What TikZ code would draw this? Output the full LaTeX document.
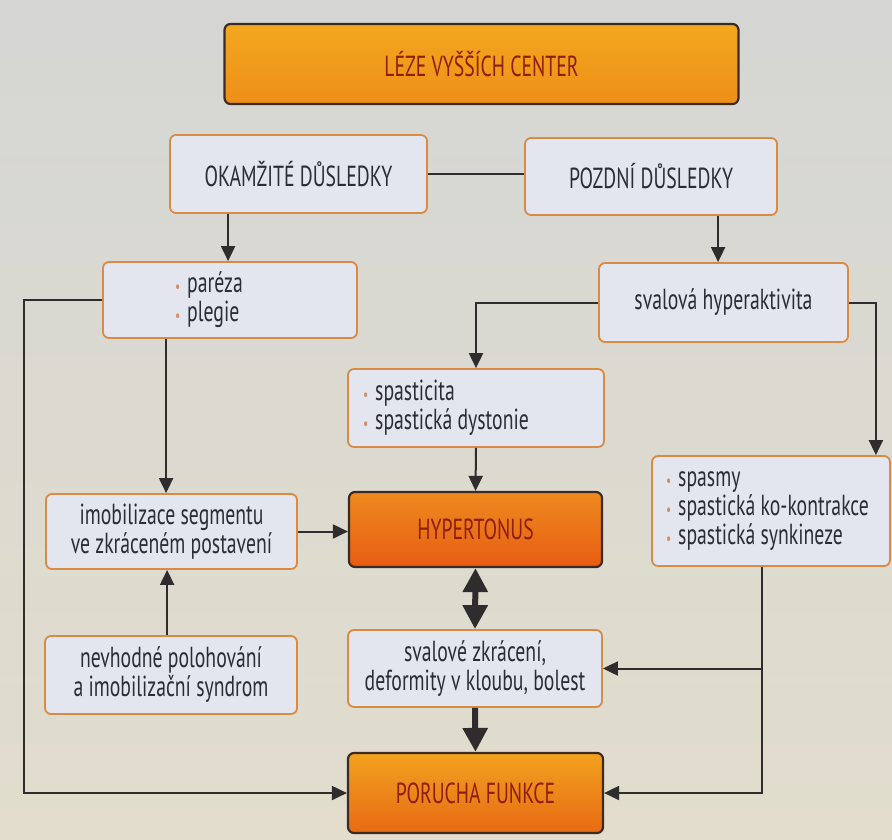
\documentclass[tikz,border=0pt]{standalone}
\usepackage{fontspec}
\setmainfont{PT Sans}[FakeStretch=0.68]
\usetikzlibrary{arrows.meta,calc}
\definecolor{bgtop}{HTML}{D5D6D4}
\definecolor{bgbot}{HTML}{E2DDCC}
\definecolor{boxline}{HTML}{D98A45}
\definecolor{boxfill}{HTML}{E3E6EE}
\definecolor{txt}{HTML}{2B2C36}
\definecolor{obline}{HTML}{3A2C24}
\definecolor{ltop}{HTML}{F3A81F}
\definecolor{lbot}{HTML}{EE8E18}
\definecolor{otop}{HTML}{F2A21F}
\definecolor{obot}{HTML}{E86A14}
\definecolor{htop}{HTML}{EF8A1F}
\definecolor{hbot}{HTML}{E75C12}
\definecolor{otxt}{HTML}{8E1E10}
\definecolor{ln}{HTML}{2E2C2C}
\definecolor{bul}{HTML}{D0906A}
\newcommand{\mybul}{\textcolor{bul}{\fontsize{17}{17}\selectfont\textbullet}\hspace{7pt}}
\tikzset{
  lbox/.style={draw=boxline, line width=1.8pt, fill=boxfill, rounded corners=6pt,
    text=txt, font=\fontsize{29}{29}\selectfont, align=center, inner sep=0pt},
  obox/.style={draw=obline, line width=2.2pt, rounded corners=6pt,
    top color=otop, bottom color=obot, text=otxt,
    font=\fontsize{29}{29}\selectfont, align=center, inner sep=0pt},
  hbox/.style={obox, top color=htop, bottom color=hbot},
  topbox/.style={obox, top color=ltop, bottom color=lbot},
  conn/.style={draw=ln, line width=2pt},
  arr/.style={conn, -{Triangle[length=15pt,width=14pt]}},
  fat/.style={draw=ln, line width=6pt, -{Triangle[length=24pt,width=24pt]}},
  fatboth/.style={draw=ln, line width=6pt, {Triangle[length=24pt,width=24pt]}-{Triangle[length=24pt,width=24pt]}},
}
\begin{document}
\begin{tikzpicture}[x=1pt,y=-1pt]
\useasboundingbox (0,0) rectangle (892,839);
\fill[top color=bgtop, bottom color=bgbot] (0,0) rectangle (892,839);

% nodes
\node[topbox, minimum width=514pt, minimum height=80pt] (lez) at (481.5,64) {LÉZE VYŠŠÍCH CENTER};
\node[lbox, minimum width=257pt, minimum height=78pt] (ok) at (298.5,174) {OKAMŽITÉ DŮSLEDKY};
\node[lbox, minimum width=252pt, minimum height=77pt] (poz) at (651,176.5) {POZDNÍ DŮSLEDKY};
\node[lbox, minimum width=254pt, minimum height=76pt, text width=110pt, align=flush left] (par) at (230,300) {\mybul paréza\\\mybul plegie};
\node[lbox, minimum width=249pt, minimum height=79pt] (hyp) at (723.5,302.5) {svalová hyperaktivita};
\node[lbox, minimum width=256pt, minimum height=78pt, text width=226pt, align=flush left] (spa) at (476,408) {\mybul spasticita\\\mybul spastická dystonie};
\node[hbox, minimum width=253pt, minimum height=75pt] (ht) at (475.5,529.5) {HYPERTONUS};
\node[lbox, minimum width=251pt, minimum height=75pt] (imo) at (171.5,531.5) {imobilizace segmentu\\ve zkráceném postavení};
\node[lbox, minimum width=238pt, minimum height=110pt, text width=210pt, align=flush left] (spm) at (771,511) {\mybul spasmy\\\mybul spastická ko-kontrakce\\\mybul spastická synkineze};
\node[lbox, minimum width=252pt, minimum height=78pt] (nev) at (171,675) {nevhodné polohování\\a imobilizační syndrom};
\node[lbox, minimum width=254pt, minimum height=77pt] (sz) at (475,668.5) {svalové zkrácení,\\deformity v kloubu, bolest};
\node[obox, minimum width=255pt, minimum height=80pt] (por) at (475.5,793) {PORUCHA FUNKCE};

% connectors
\draw[conn] (ok.east) -- (poz.west |- ok.east);
\coordinate (okd) at ($(ok.south west)+(59,0)$);
\draw[arr] (okd) -- (okd |- par.north);
\coordinate (pozd) at ($(poz.south west)+(194,0)$);
\draw[arr] (pozd) -- (pozd |- hyp.north);
\coordinate (hl) at (spa.north |- hyp.west);
\draw[arr] (hyp.west) -- (hl) -- (spa.north);
\coordinate (hr) at ($(spm.north east)+(-15,0)$);
\draw[arr] (hyp.east) -- (hr |- hyp.east) -- (hr);
\draw[arr] (spa.south) -- (ht.north);
\coordinate (pard) at ($(par.south west)+(64,0)$);
\draw[arr] (pard) -- (pard |- imo.north);
\coordinate (nevu) at ($(nev.north west)+(123,0)$);
\draw[arr] (nevu) -- (nevu |- imo.south);
\draw[arr] (imo.east) -- (ht.west |- imo.east);
\coordinate (parl) at (24,300);
\draw[arr] (par.west) -- (parl) -- (parl |- por.west) -- (por.west);
\coordinate (spmd) at ($(spm.south west)+(111,0)$);
\draw[arr] (spmd) -- (spmd |- por.east) -- (por.east);
\draw[arr] (spmd |- sz.east) -- (sz.east);
\draw[fatboth] (ht.south) -- (sz.north);
\draw[fat] (sz.south) -- (por.north);
\end{tikzpicture}
\end{document}
